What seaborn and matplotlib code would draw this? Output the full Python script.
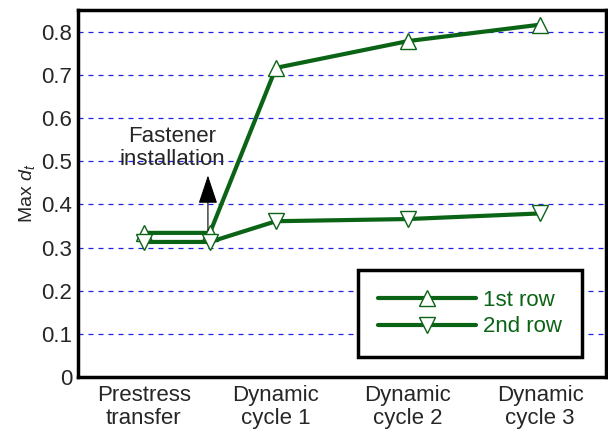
import matplotlib
matplotlib.use("Agg")
import matplotlib.pyplot as plt
import seaborn as sns
import pandas as pd

# Stages along the x axis (0.5 = fastener installation, between transfer and cycle 1)
stage_pos = [0, 0.5, 1, 2, 3]
first_row = [0.334, 0.334, 0.716, 0.778, 0.816]
second_row = [0.313, 0.313, 0.361, 0.366, 0.379]
tick_pos = [0, 1, 2, 3]
tick_labels = ["Prestress\ntransfer", "Dynamic\ncycle 1", "Dynamic\ncycle 2", "Dynamic\ncycle 3"]
y_ticks = [0, 0.1, 0.2, 0.3, 0.4, 0.5, 0.6, 0.7, 0.8]
y_tick_labels = ["0", "0.1", "0.2", "0.3", "0.4", "0.5", "0.6", "0.7", "0.8"]

sns.set_style("white")
plt.rcParams["font.family"] = ["Liberation Sans", "DejaVu Sans"]
plt.rcParams["mathtext.fontset"] = "custom"
plt.rcParams["mathtext.it"] = "Liberation Sans:italic"
plt.rcParams["mathtext.rm"] = "Liberation Sans"

green = "#0b6416"
fs = 16

fig = plt.figure(figsize=(6.08, 4.34), dpi=100)
ax = fig.add_axes([0.128, 0.131, 0.869, 0.846])

df = pd.DataFrame({"stage": stage_pos * 2,
                   "value": first_row + second_row,
                   "series": ["1st row"] * len(stage_pos) + ["2nd row"] * len(stage_pos)})

for name, mk in [("1st row", "^"), ("2nd row", "v")]:
    sub = df[df["series"] == name]
    sns.lineplot(data=sub, x="stage", y="value", ax=ax, color=green, lw=3,
                 marker=mk, markersize=11, markerfacecolor="white",
                 markeredgecolor=green, markeredgewidth=1.0, label=name,
                 estimator=None, sort=False)

ax.set_xlim(-0.5, 3.5)
ax.set_ylim(0, 0.85)
ax.set_xticks(tick_pos)
ax.set_xticklabels(tick_labels, fontsize=fs, linespacing=1.1)
ax.set_yticks(y_ticks)
ax.set_yticklabels(y_tick_labels, fontsize=fs)
ax.tick_params(axis="y", direction="in", length=7, width=1.5, color="black", pad=4)
ax.tick_params(axis="x", length=0, pad=6)
ax.set_xlabel("")
ax.set_ylabel("Max $d_t$", fontsize=14, labelpad=3)

for yv in y_ticks[1:]:
    ax.axhline(yv, color="#2020e0", lw=0.9, ls=(0, (4, 4)), zorder=0)

for sp in ax.spines.values():
    sp.set_color("black")
    sp.set_linewidth(2.5)

ax.annotate("", xy=(0.485, 0.467), xytext=(0.485, 0.34),
            arrowprops=dict(arrowstyle="-|>,head_length=0.9,head_width=0.3",
                            mutation_scale=20, color="black", lw=0.8,
                            shrinkA=0, shrinkB=0))
ax.text(0.214, 0.531, "Fastener\ninstallation", ha="center", va="center",
        fontsize=fs, linespacing=1.1)

leg = ax.legend(loc="lower right", bbox_to_anchor=(0.955, 0.054), fontsize=fs,
                frameon=True, fancybox=False, framealpha=1, handlelength=4.4,
                borderpad=0.9, labelspacing=0.25, handletextpad=0.35,
                borderaxespad=0)
leg.get_frame().set_edgecolor("black")
leg.get_frame().set_linewidth(2.5)
for t in leg.get_texts():
    t.set_color(green)

fig.savefig("out.png", dpi=100)
